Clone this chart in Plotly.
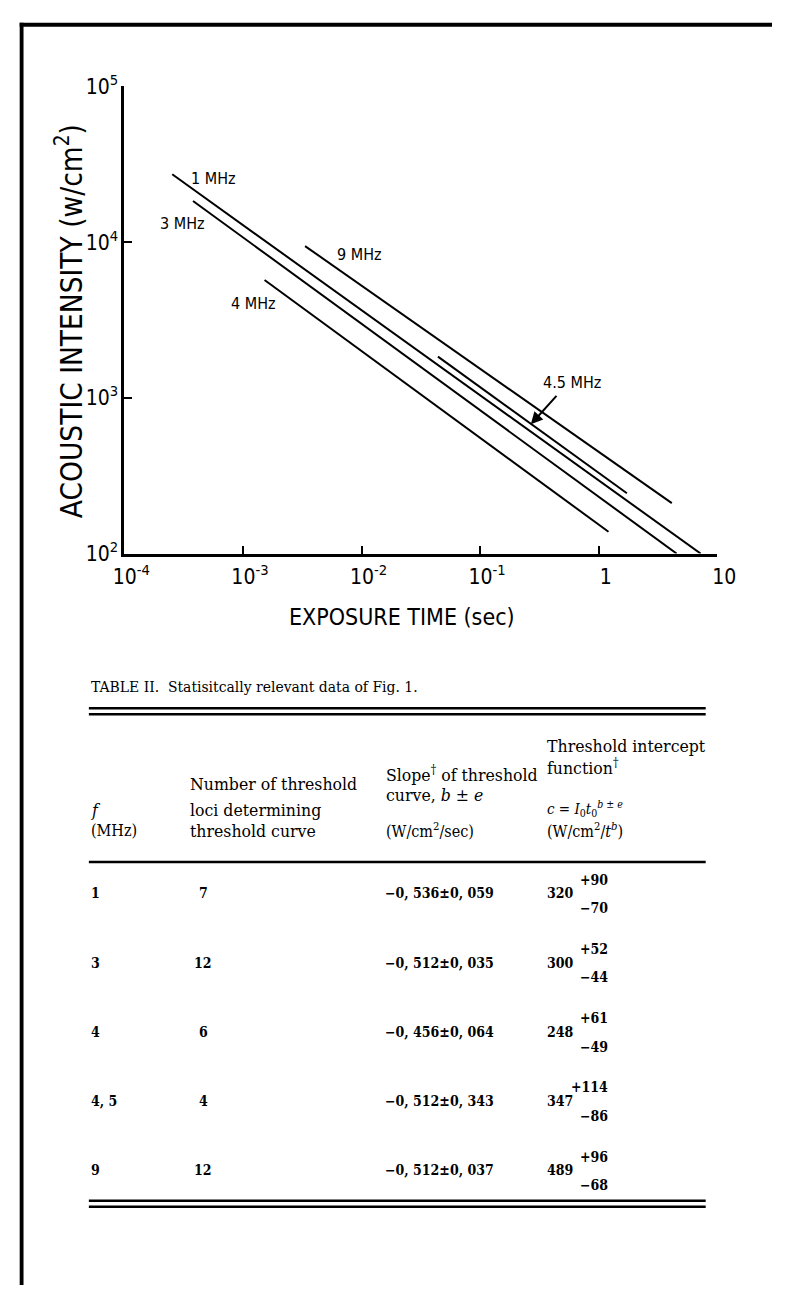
import plotly.graph_objects as go

W, H = 791, 1297

# ---- threshold curves (exposure time in s, acoustic intensity in W/cm^2) ----
curve_names = ["1 MHz", "3 MHz", "4 MHz", "9 MHz", "4.5 MHz"]
t_start = [2.53e-4, 3.79e-4, 1.52e-3, 3.34e-3, 0.0441]
t_end = [7.24, 4.54, 1.21, 4.14, 1.73]
i_start = [2.73e4, 1.84e4, 5.71e3, 9.44e3, 1.84e3]
i_end = [100, 100, 138, 211, 244]

x_tickvals = [1e-4, 1e-3, 1e-2, 1e-1, 1, 10]
x_ticktext = ["10<sup>-4</sup>", "10<sup>-3</sup>", "10<sup>-2</sup>", "10<sup>-1</sup>", "1", "10"]
y_tickvals = [1e2, 1e3, 1e4, 1e5]
y_ticktext = ["10<sup>2</sup>", "10<sup>3</sup>", "10<sup>4</sup>", "10<sup>5</sup>"]

# ---- Table II ----
table_f = ["1", "3", "4", "4, 5", "9"]
table_loci = [7, 12, 6, 4, 12]
table_slope = [-0.536, -0.512, -0.456, -0.512, -0.512]
table_slope_err = [0.059, 0.035, 0.064, 0.343, 0.037]
table_c = [320, 300, 248, 347, 489]
table_c_plus = [90, 52, 61, 114, 96]
table_c_minus = [70, 44, 49, 86, 68]

SANS = "DejaVu Sans Condensed, Liberation Sans Narrow, Arial Narrow, Liberation Sans, sans-serif"
SERIF = "DejaVu Serif Condensed, DejaVu Serif, Liberation Serif, serif"


def px(x):
    return x / W


def py(y):
    return 1 - y / H


def fmt(v):
    return f"{v:.3f}".replace("-", "\u2212").replace(".", ", ")


fig = go.Figure()

for name, t0, t1, i0, i1 in zip(curve_names, t_start, t_end, i_start, i_end):
    fig.add_trace(go.Scatter(x=[t0, t1], y=[i0, i1], mode="lines", name=name,
                             line=dict(color="black", width=2), hoverinfo="skip"))

ann = []

# curve labels
label_pos = {"1 MHz": (210, 167), "3 MHz": (177, 213), "4 MHz": (251, 295),
             "9 MHz": (362, 245), "4.5 MHz": (583, 375)}
for name in curve_names:
    x, y = label_pos[name]
    ann.append(dict(x=px(x), y=py(y), xref="paper", yref="paper", text=name, showarrow=False,
                    font=dict(family=SANS, size=16, color="black"), xanchor="center", yanchor="middle"))
# pointer to the 4.5 MHz curve
ann.append(dict(x=px(540), y=py(418), xref="paper", yref="paper", text="", showarrow=True,
                ax=27, ay=-30, arrowhead=2, arrowsize=1.2, arrowwidth=2, arrowcolor="black"))

# axis titles
ann.append(dict(x=px(60), y=py(313), xref="paper", yref="paper", text="ACOUSTIC INTENSITY (w/cm<sup>2</sup>)",
                textangle=-90, showarrow=False, font=dict(family=SANS, size=29.5, color="black"),
                xanchor="center", yanchor="middle"))
ann.append(dict(x=px(406), y=py(615), xref="paper", yref="paper", text="EXPOSURE TIME (sec)",
                showarrow=False, font=dict(family=SANS, size=23, color="black"),
                xanchor="center", yanchor="middle"))


# table title, headers and body
def text_at(x, y, s, size=17.5, anchor="left", family=SERIF):
    ann.append(dict(x=px(x), y=py(y), xref="paper", yref="paper", text=s, showarrow=False,
                    font=dict(family=family, size=size, color="black"),
                    xanchor=anchor, yanchor="middle"))


text_at(80, 686, "TABLE II.  Statisitcally relevant data of Fig. 1.", size=15.5)

text_at(80, 812, "<i>f</i>")
text_at(80, 833, "(MHz)", size=16)
text_at(183, 785, "Number of threshold")
text_at(183, 812, "loci determining")
text_at(183, 833, "threshold curve")
text_at(387, 775, "Slope<sup>†</sup> of threshold")
text_at(387, 797, "curve, <i>b</i> ± <i>e</i>")
text_at(387, 833, "(W/cm<sup>2</sup>/sec)", size=16)
text_at(555, 747, "Threshold intercept")
text_at(555, 768, "function<sup>†</sup>")
text_at(555, 810, "<i>c</i> = <i>I</i><sub>0</sub><i>t</i><sub>0</sub><sup><i>b</i> ± <i>e</i></sup>", size=15)
text_at(555, 833, "(W/cm<sup>2</sup>/<i>t</i><sup><i>b</i></sup>)", size=16)

row_y0, row_step = 897, 70.75
for k in range(len(table_f)):
    y = row_y0 + k * row_step
    text_at(80, y, f"<b>{table_f[k]}</b>", size=14)
    text_at(199, y, f"<b>{table_loci[k]}</b>", size=14, anchor="center")
    text_at(386, y, f"<b>{fmt(table_slope[k])}±{fmt(table_slope_err[k])}</b>", size=14)
    text_at(555, y, f"<b>{table_c[k]}</b>", size=14)
    text_at(622, y - 14, f"<b>+{table_c_plus[k]}</b>", size=14, anchor="right")
    text_at(622, y + 15, f"<b>\u2212{table_c_minus[k]}</b>", size=14, anchor="right")

fig.update_layout(annotations=ann)

# table rules and the page frame
shapes = []


def hrule(y, w):
    shapes.append(dict(type="line", xref="paper", yref="paper", x0=px(80), x1=px(722),
                       y0=py(y), y1=py(y), line=dict(color="black", width=w)))


hrule(708, 2.5)
hrule(714, 2.5)
hrule(865, 2.5)
hrule(1211, 2.5)
hrule(1217, 2.5)
shapes.append(dict(type="rect", xref="paper", yref="paper", x0=px(8), x1=px(W), y0=py(12), y1=py(8),
                   fillcolor="black", line=dict(width=0)))
shapes.append(dict(type="rect", xref="paper", yref="paper", x0=px(8), x1=px(12), y0=py(H), y1=py(8),
                   fillcolor="black", line=dict(width=0)))
fig.update_layout(shapes=shapes)

axis_common = dict(type="log", showline=True, linecolor="black", linewidth=3, ticks="inside",
                   ticklen=8, tickwidth=2, tickcolor="black", showgrid=False, zeroline=False,
                   tickfont=dict(family=SANS, size=21, color="black"))
fig.update_xaxes(range=[-4, 1], domain=[117 / W, 734 / W], tickvals=x_tickvals, ticktext=x_ticktext,
                 ticklabelstandoff=2, ticklabelshift=7, **axis_common)
fig.update_yaxes(range=[2, 5], domain=[1 - 550 / H, 1 - 73 / H], tickvals=y_tickvals, ticktext=y_ticktext,
                 ticklabelstandoff=-1, **axis_common)

fig.update_layout(width=W, height=H, margin=dict(l=0, r=0, t=0, b=0), showlegend=False,
                  paper_bgcolor="white", plot_bgcolor="white")

fig.write_html("out.html")
